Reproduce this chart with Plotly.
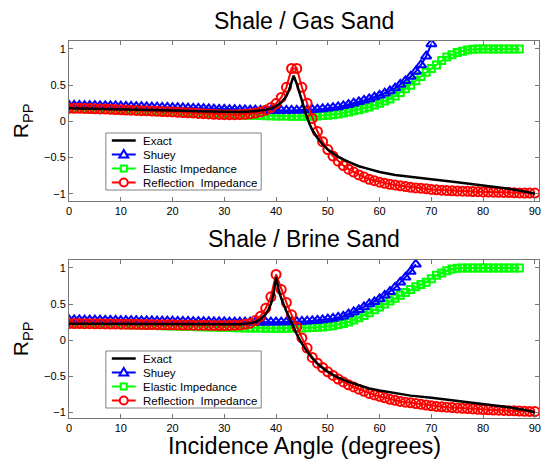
import plotly.graph_objects as go

# ---------------- DATA ----------------
angles_int = list(range(0, 91))

# Shale / Gas Sand
gas_ri = [0.18,0.18,0.18,0.178,0.176,0.174,0.172,0.17,0.167,0.164,
          0.16,0.157,0.154,0.151,0.148,0.145,0.142,0.139,0.136,0.133,
          0.13,0.126,0.122,0.118,0.114,0.11,0.106,0.102,0.098,0.095,
          0.093,0.092,0.092,0.094,0.098,0.105,0.115,0.13,0.155,0.19,
          0.245,0.33,0.47,0.73,0.73,0.47,0.25,0.04,-0.14,-0.28,
          -0.39,-0.48,-0.55,-0.61,-0.66,-0.70,-0.74,-0.77,-0.80,-0.82,
          -0.84,-0.855,-0.87,-0.88,-0.89,-0.90,-0.91,-0.92,-0.925,-0.93,
          -0.94,-0.945,-0.95,-0.955,-0.96,-0.962,-0.965,-0.967,-0.97,-0.972,
          -0.974,-0.976,-0.978,-0.98,-0.982,-0.984,-0.986,-0.988,-0.99,-0.99,
          -0.99]
gas_ei = [0.18,0.178,0.176,0.174,0.172,0.17,0.168,0.166,0.164,0.162,
          0.16,0.157,0.154,0.151,0.148,0.145,0.142,0.139,0.136,0.133,
          0.13,0.127,0.124,0.121,0.118,0.115,0.112,0.109,0.106,0.103,
          0.10,0.097,0.094,0.091,0.088,0.085,0.083,0.081,0.079,0.077,
          0.075,0.074,0.073,0.072,0.071,0.07,0.071,0.072,0.075,0.08,
          0.085,0.092,0.10,0.115,0.13,0.145,0.16,0.18,0.20,0.225,
          0.25,0.28,0.31,0.35,0.40,0.45,0.50,0.56,0.62,0.68,
          0.73,0.78,0.84,0.89,0.92,0.95,0.97,0.985,0.995,1.0,
          1.0,1.0,1.0,1.0,1.0,1.0,1.0,1.0]
gas_shuey = [0.22,0.22,0.219,0.218,0.217,0.216,0.215,0.214,0.213,0.212,
             0.21,0.208,0.206,0.204,0.202,0.20,0.198,0.196,0.194,0.192,
             0.19,0.188,0.186,0.183,0.18,0.178,0.175,0.172,0.17,0.167,
             0.165,0.163,0.161,0.159,0.157,0.155,0.154,0.153,0.152,0.151,
             0.15,0.15,0.15,0.151,0.152,0.154,0.157,0.161,0.166,0.172,
             0.18,0.19,0.20,0.215,0.23,0.25,0.27,0.29,0.31,0.335,
             0.36,0.39,0.42,0.46,0.51,0.56,0.62,0.69,0.78,0.9,
             1.07]
gas_exact_x = [0,5,10,15,20,25,30,33,35,37,38,39,40,41,42,42.5,43,43.4,44,44.5,
               45,45.5,46,46.5,47,48,49,50,52,54,56,58,60,63,66,70,75,80,85,88,90]
gas_exact_y = [0.18,0.175,0.17,0.16,0.15,0.14,0.13,0.13,0.135,0.15,0.16,0.18,0.21,0.26,0.35,0.43,0.55,0.63,0.52,0.40,
               0.28,0.16,0.05,-0.04,-0.12,-0.23,-0.32,-0.39,-0.49,-0.56,-0.62,-0.66,-0.70,-0.74,-0.77,-0.80,-0.84,-0.88,-0.93,-0.97,-1.0]

# Shale / Brine Sand
brine_ri = [0.23,0.23,0.229,0.228,0.227,0.226,0.225,0.224,0.223,0.222,
            0.221,0.22,0.219,0.218,0.217,0.216,0.215,0.214,0.213,0.212,
            0.211,0.21,0.209,0.208,0.207,0.206,0.205,0.204,0.203,0.202,
            0.202,0.203,0.205,0.21,0.218,0.235,0.27,0.33,0.44,0.60,
            0.91,0.70,0.52,0.35,0.18,0.03,-0.11,-0.24,-0.32,-0.38,
            -0.44,-0.49,-0.54,-0.58,-0.62,-0.65,-0.68,-0.71,-0.74,-0.76,
            -0.78,-0.80,-0.82,-0.835,-0.85,-0.86,-0.87,-0.88,-0.89,-0.90,
            -0.91,-0.92,-0.925,-0.93,-0.935,-0.94,-0.945,-0.95,-0.955,-0.96,
            -0.963,-0.966,-0.969,-0.972,-0.975,-0.978,-0.981,-0.984,-0.987,-0.989,
            -0.99]
brine_ei = [0.23,0.229,0.228,0.227,0.226,0.225,0.224,0.222,0.22,0.218,
            0.216,0.214,0.212,0.21,0.208,0.206,0.204,0.202,0.20,0.198,
            0.196,0.194,0.192,0.19,0.188,0.186,0.184,0.182,0.18,0.178,
            0.176,0.174,0.172,0.17,0.169,0.168,0.167,0.166,0.165,0.165,
            0.165,0.165,0.165,0.166,0.167,0.168,0.17,0.173,0.177,0.183,
            0.19,0.20,0.215,0.23,0.25,0.28,0.31,0.34,0.38,0.42,
            0.46,0.50,0.54,0.58,0.62,0.66,0.70,0.74,0.77,0.80,
            0.85,0.90,0.93,0.96,0.985,0.995,1.0,1.0,1.0,1.0,
            1.0,1.0,1.0,1.0,1.0,1.0,1.0,1.0]
brine_shuey = [0.28,0.28,0.279,0.278,0.277,0.276,0.275,0.274,0.273,0.272,
               0.271,0.27,0.269,0.268,0.267,0.266,0.265,0.264,0.263,0.262,
               0.261,0.26,0.259,0.258,0.257,0.256,0.255,0.254,0.253,0.252,
               0.251,0.25,0.25,0.249,0.249,0.248,0.248,0.248,0.248,0.248,
               0.248,0.249,0.25,0.252,0.255,0.258,0.262,0.267,0.273,0.28,
               0.29,0.30,0.315,0.33,0.36,0.39,0.42,0.46,0.50,0.53,
               0.57,0.62,0.67,0.73,0.80,0.87,0.95,1.05]
brine_exact_x = [0,10,20,30,33,35,36,37,38,38.5,39,39.5,40,40.5,41,42,43,44,45,46,
                 47,48,50,52,54,56,58,60,63,66,70,75,80,85,88,90]
brine_exact_y = [0.225,0.222,0.218,0.215,0.22,0.235,0.25,0.29,0.36,0.42,0.5,0.63,0.87,0.70,0.58,0.40,0.23,0.08,-0.05,-0.16,
                 -0.25,-0.33,-0.44,-0.52,-0.58,-0.63,-0.67,-0.70,-0.74,-0.77,-0.80,-0.84,-0.88,-0.93,-0.97,-1.0]

panel_titles = ["Shale / Gas Sand", "Shale / Brine Sand"]
series_names = ["Exact", "Shuey", "Elastic Impedance", "Reflection  Impedance"]
series_colors = ["#000000", "#0000ff", "#00ff00", "#ff0000"]
x_ticks = [0, 10, 20, 30, 40, 50, 60, 70, 80, 90]
y_ticks = [-1, -0.5, 0, 0.5, 1]
y_tick_text = ["\u22121", "\u22120.5", "0", "0.5", "1"]

# ---------------- FIGURE ----------------
FONT = "Liberation Sans, Arial, Helvetica, sans-serif"
W, H = 548, 460
ML, MR, MT, MB = 69, 7, 41, 42
PW, PH = W - ML - MR, H - MT - MB
PLOT_BOTTOM = H - MB


def xp(px):
    return (px - ML) / PW


def yp(py):
    return (PLOT_BOTTOM - py) / PH


fig = go.Figure()

panels = [
    dict(ri=gas_ri, ei=gas_ei, sh=gas_shuey, ex=gas_exact_x, ey=gas_exact_y, xa="x", ya="y"),
    dict(ri=brine_ri, ei=brine_ei, sh=brine_shuey, ex=brine_exact_x, ey=brine_exact_y, xa="x2", ya="y2"),
]

for p in panels:
    fig.add_trace(go.Scatter(
        x=angles_int[:len(p["ei"])], y=p["ei"], name=series_names[2], mode="lines+markers",
        line=dict(color=series_colors[2], width=2),
        marker=dict(symbol="square-open", size=7, color=series_colors[2], line=dict(width=2, color=series_colors[2])),
        xaxis=p["xa"], yaxis=p["ya"], showlegend=False))
    fig.add_trace(go.Scatter(
        x=angles_int[:len(p["sh"])], y=p["sh"], name=series_names[1], mode="lines+markers",
        line=dict(color=series_colors[1], width=2),
        marker=dict(symbol="triangle-up-open", size=9, color=series_colors[1], line=dict(width=2, color=series_colors[1])),
        xaxis=p["xa"], yaxis=p["ya"], showlegend=False))
    fig.add_trace(go.Scatter(
        x=angles_int[:len(p["ri"])], y=p["ri"], name=series_names[3], mode="lines+markers",
        line=dict(color=series_colors[3], width=2),
        marker=dict(symbol="circle-open", size=9, color=series_colors[3], line=dict(width=2, color=series_colors[3])),
        xaxis=p["xa"], yaxis=p["ya"], showlegend=False))
    fig.add_trace(go.Scatter(
        x=p["ex"], y=p["ey"], name=series_names[0], mode="lines",
        line=dict(color=series_colors[0], width=2.5),
        xaxis=p["xa"], yaxis=p["ya"], showlegend=False))

axis_common = dict(
    showgrid=False, zeroline=False, showline=True, linecolor="#777777", linewidth=1,
    mirror="ticks", ticks="inside", ticklen=4, tickcolor="#777777",
    tickfont=dict(family=FONT, size=11, color="#000000"),
)

top_dom = [yp(201), 1.0]
bot_dom = [0.0, yp(260)]

fig.update_layout(
    width=W, height=H,
    margin=dict(l=ML, r=MR, t=MT, b=MB),
    paper_bgcolor="#ffffff", plot_bgcolor="#ffffff",
    showlegend=False,
    xaxis=dict(domain=[0, 1], range=[0, 90.8], anchor="y", tickvals=x_ticks, **axis_common),
    yaxis=dict(domain=top_dom, range=[-1.1, 1.11], anchor="x", tickvals=y_ticks, ticktext=y_tick_text, **axis_common),
    xaxis2=dict(domain=[0, 1], range=[0, 90.8], anchor="y2", tickvals=x_ticks, **axis_common),
    yaxis2=dict(domain=bot_dom, range=[-1.08, 1.11], anchor="x2", tickvals=y_ticks, ticktext=y_tick_text, **axis_common),
)

# ---- custom legends (MATLAB-style compact boxes) ----
shapes = []
LEG_L, LEG_R = 106, 262
ROW_H = 14
for top in [133, 351]:
    bottom = top + 4 * ROW_H + 1
    shapes.append(dict(type="rect", xref="paper", yref="paper", layer="above",
                       x0=xp(LEG_L), x1=xp(LEG_R), y0=yp(bottom), y1=yp(top),
                       line=dict(color="#808080", width=1), fillcolor="#ffffff"))
    for i, name in enumerate(series_names):
        cy = top + 7.5 + ROW_H * i
        col = series_colors[i]
        shapes.append(dict(type="line", xref="paper", yref="paper", layer="above",
                           x0=xp(112), x1=xp(136), y0=yp(cy), y1=yp(cy),
                           line=dict(color=col, width=2.5 if i == 0 else 2)))
        cx = 124
        if i == 1:
            path = "M {} {} L {} {} L {} {} Z".format(
                xp(cx), yp(cy - 4.5), xp(cx - 4.5), yp(cy + 3), xp(cx + 4.5), yp(cy + 3))
            shapes.append(dict(type="path", xref="paper", yref="paper", layer="above", path=path,
                               line=dict(color=col, width=2), fillcolor="#ffffff"))
        elif i == 2:
            shapes.append(dict(type="rect", xref="paper", yref="paper", layer="above",
                               x0=xp(cx - 3), x1=xp(cx + 3), y0=yp(cy + 3), y1=yp(cy - 3),
                               line=dict(color=col, width=2), fillcolor="#ffffff"))
        elif i == 3:
            shapes.append(dict(type="circle", xref="paper", yref="paper", layer="above",
                               x0=xp(cx - 4), x1=xp(cx + 4), y0=yp(cy + 4), y1=yp(cy - 4),
                               line=dict(color=col, width=2), fillcolor="#ffffff"))
        fig.add_annotation(text=name, x=xp(141), y=yp(cy), xref="paper", yref="paper",
                           xanchor="left", yanchor="middle", showarrow=False,
                           font=dict(family=FONT, size=11.5, color="#000000"))
fig.update_layout(shapes=shapes)

# ---- titles and labels ----
for txt, cy in zip(panel_titles, [21, 239]):
    fig.add_annotation(text=txt, x=0.5, y=yp(cy), xref="paper", yref="paper",
                       xanchor="center", yanchor="middle", showarrow=False,
                       font=dict(family=FONT, size=23, color="#000000"))

fig.add_annotation(text="Incidence Angle (degrees)", x=0.5, y=yp(446),
                   xref="paper", yref="paper", xanchor="center", yanchor="middle",
                   showarrow=False, font=dict(family=FONT, size=23.5, color="#000000"))

for yc in [121, 339]:
    fig.add_annotation(text="R<sub>PP</sub>", x=xp(22), y=yp(yc),
                       xref="paper", yref="paper", xanchor="center", yanchor="middle",
                       textangle=-90, showarrow=False,
                       font=dict(family=FONT, size=21, color="#000000"))

fig.write_html("out.html")
